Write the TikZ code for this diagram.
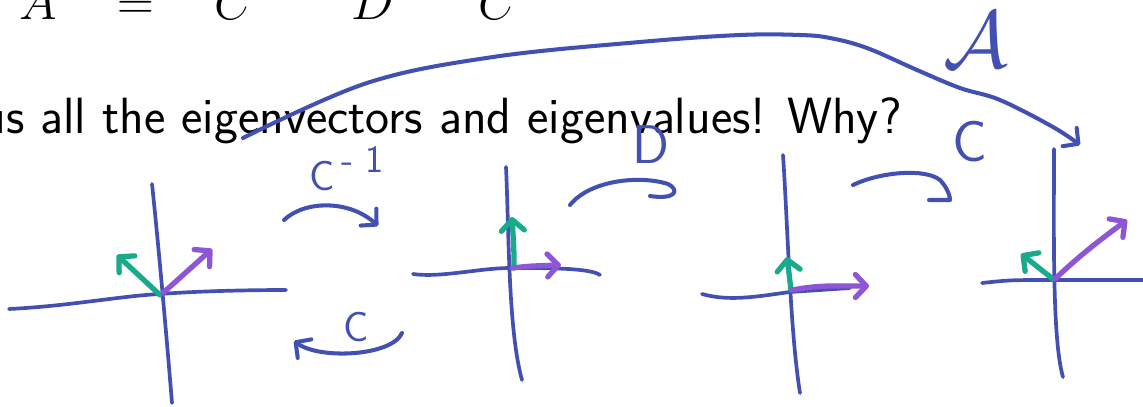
\RequirePackage{fix-cm}
\documentclass[tikz,border=0pt]{standalone}
\usepackage{fontspec}
\usetikzlibrary{arrows.meta}
\definecolor{inkblue}{RGB}{66,80,178}
\definecolor{inkgreen}{RGB}{24,170,138}
\definecolor{inkpurple}{RGB}{140,86,214}
\tikzset{
  ax/.style={draw=inkblue,line width=2.1pt,line cap=round,line join=round},
  ink/.style={draw=inkblue,line width=2.3pt,line cap=round,line join=round},
  barb/.style={-{Straight Barb[length=2.2mm,width=4.6mm,round]}},
  gvec/.style={draw=inkgreen,line width=3pt,line cap=round,barb},
  pvec/.style={draw=inkpurple,line width=3pt,line cap=round,barb},
  hand/.style={text=inkblue,font=\fontsize{24}{28}\selectfont\sffamily,inner sep=0pt},
  slide/.style={text=black,inner sep=0pt},
}
\begin{document}
\begin{tikzpicture}[x=0.02cm,y=-0.02cm]
\useasboundingbox (0,0) rectangle (1143,406);
\clip (0,0) rectangle (1143,406);
% top math row (cut off)
\node[slide,anchor=base,font=\fontsize{29}{35}\selectfont] (mA) at (38,19) {$A$};
\node[slide,anchor=base,font=\fontsize{29}{35}\selectfont] (mEq) at (136,19) {$=$};
\node[slide,anchor=base,font=\fontsize{29}{35}\selectfont] (mC) at (234,19) {$C$};
\node[slide,anchor=base,font=\fontsize{29}{35}\selectfont] (mD) at (373,19) {$D$};
\node[slide,anchor=base,font=\fontsize{29}{35}\selectfont] (mCi) at (498,19) {$C$};
% slide sentence
\node[slide,anchor=base east,font=\fontsize{29}{35}\selectfont\sffamily] (sent) at (902,133) {us all the eigenvectors and eigenvalues! Why?};
% axes 1
\draw[ax] (152,184) .. controls (158,240) and (166,330) .. (172,403);
\draw[ax] (9,309) .. controls (70,306) and (120,296) .. (160,294) .. controls (200,291) and (250,290) .. (286,290);
\draw[gvec] (160,295) -- (117,255);
\draw[pvec] (163,293) -- (212,249);
% axes 2
\draw[ax] (506,167) .. controls (509,230) and (508,330) .. (522,380);
\draw[ax] (413,274) .. controls (440,278) and (480,268) .. (510,268) .. controls (550,268) and (590,268) .. (600,275);
\draw[gvec] (514,268) .. controls (514,250) .. (512,217);
\draw[pvec] (512,268) .. controls (530,266) .. (561,265);
% axes 3
\draw[ax] (783,155) .. controls (788,230) and (790,330) .. (800,393);
\draw[ax] (702,294) .. controls (730,302) and (760,296) .. (790,292) -- (850,288);
\draw[gvec] (791,290) -- (787,257);
\draw[pvec] (792,290) .. controls (820,285) and (830,286) .. (869,286);
% axes 4
\draw[ax] (1054,149) .. controls (1054,230) and (1052,340) .. (1063,377);
\draw[ax] (982,283) .. controls (1010,280) .. (1053,280) -- (1143,280);
\draw[gvec] (1053,279) .. controls (1040,268) .. (1021,254);
\draw[pvec] (1055,279) .. controls (1080,255) and (1100,240) .. (1127,220);
% C^-1 arrow
\draw[ink,barb] (284,220) .. controls (305,200) and (350,200) .. (378,226);
\node[hand,anchor=base west] (lCi) at (309,190) {C\,\raisebox{0.42em}{\fontsize{22}{26}\selectfont -\hspace{0.3em}1}};
% bottom C arrow
\draw[ink,barb] (402,333) .. controls (392,356) and (320,360) .. (294,341);
\node[hand] (lC1) at (356,327) {C};
% D arrow
\draw[ink] (570,205) .. controls (590,180) and (640,175) .. (668,184) .. controls (680,190) and (676,200) .. (650,196);
\node[hand,font=\fontsize{31}{36}\selectfont\sffamily] (lD) at (651,145) {D};
% C arrow (third)
\draw[ink] (853,185) .. controls (880,172) and (925,168) .. (940,180) .. controls (946,186) and (950,195) .. (950,200) -- (929,200);
\node[hand,font=\fontsize{33}{38}\selectfont\sffamily] (lC2) at (970,142) {C};
% big A arc
\draw[ink,barb] plot[smooth,tension=0.6] coordinates {(243,138) (367,83) (493,57) (640,42) (740,35) (800,35) (830,38) (867,48) (917,70) (960,88) (1000,100) (1053,127) (1080,145)};
\node[hand,font=\fontsize{46}{52}\selectfont] (lA) at (976,40) {$\mathcal{A}$};
\end{tikzpicture}
\end{document}
